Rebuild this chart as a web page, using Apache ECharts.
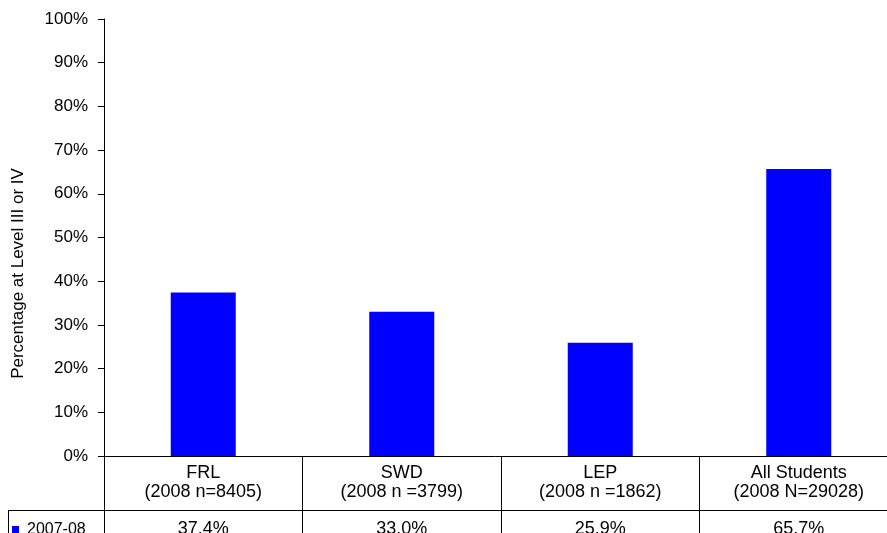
<!DOCTYPE html>
<html>
<head>
<meta charset="utf-8">
<script src="https://cdn.jsdelivr.net/npm/echarts@6/dist/echarts.min.js"></script>
<style>
  html, body { margin: 0; padding: 0; background: #fff; overflow: hidden; }
  #chart { width: 887px; height: 533px; }
</style>
</head>
<body>
<div id="chart"></div>
<script>
// Student groups and the share scoring at Level III or IV, 2007-08
const groups = ['FRL', 'SWD', 'LEP', 'All Students'];
const groupCounts = ['(2008 n=8405)', '(2008 n =3799)', '(2008 n =1862)', '(2008 N=29028)'];
const seriesName = '2007-08';
const pctLevel3or4 = [37.4, 33.0, 25.9, 65.7];
const yTicks = [0, 10, 20, 30, 40, 50, 60, 70, 80, 90, 100];

const FONT = 'Liberation Sans, Arial, sans-serif';
const chart = echarts.init(document.getElementById('chart'), null, { renderer: 'canvas' });

const tableLine = { stroke: '#000', lineWidth: 1 };

chart.setOption({
  animation: false,
  backgroundColor: '#fff',
  textStyle: { fontFamily: FONT, color: '#000' },
  // the last table column runs a little past the right edge of the page
  grid: { left: 104, width: 794, top: 19, bottom: 77, containLabel: false, outerBoundsMode: 'none' },
  legend: {
    data: [seriesName],
    left: 12, top: 521.5, padding: 0,
    icon: 'rect', itemWidth: 7, itemHeight: 7, itemGap: 4,
    textStyle: { fontFamily: FONT, fontSize: 16, color: '#000', padding: [0, 0, 6, 3] }
  },
  xAxis: [
    {
      type: 'category',
      data: groups,
      position: 'bottom',
      axisLine: { show: true, lineStyle: { color: '#000', width: 1 } },
      axisTick: { show: true, length: 80, lineStyle: { color: '#000', width: 1 } },
      axisLabel: {
        margin: 8,
        fontFamily: FONT, fontSize: 18, color: '#000', lineHeight: 19,
        formatter: (v, i) => v + '\n' + groupCounts[i]
      }
    },
    {
      type: 'category',
      data: pctLevel3or4.map(v => v.toFixed(1) + '%'),
      position: 'bottom',
      gridIndex: 0,
      axisLine: { show: false },
      axisTick: { show: false },
      axisLabel: { margin: 64, fontFamily: FONT, fontSize: 18, lineHeight: 18, color: '#000' }
    }
  ],
  yAxis: {
    type: 'value',
    min: yTicks[0], max: yTicks[yTicks.length - 1], interval: 10,
    axisLine: { show: true, lineStyle: { color: '#000', width: 1 } },
    axisTick: { show: true, length: 6, lineStyle: { color: '#000', width: 1 } },
    splitLine: { show: false },
    axisLabel: { margin: 16, fontFamily: FONT, fontSize: 17, color: '#000', formatter: v => v + '%' }
  },
  series: [{
    name: seriesName,
    type: 'bar',
    data: pctLevel3or4,
    barWidth: 65,
    itemStyle: { color: '#0000FF' }
  }],
  graphic: [
    {
      type: 'text',
      x: 18, y: 273.5,
      rotation: Math.PI / 2,
      style: {
        text: 'Percentage at Level III or IV',
        font: '17px ' + FONT,
        fill: '#000',
        align: 'center',
        verticalAlign: 'middle'
      }
    },
    { type: 'line', shape: { x1: 8, y1: 510.5, x2: 900, y2: 510.5 }, style: tableLine },
    { type: 'line', shape: { x1: 8.5, y1: 510, x2: 8.5, y2: 533 }, style: tableLine }
  ]
});
</script>
</body>
</html>
